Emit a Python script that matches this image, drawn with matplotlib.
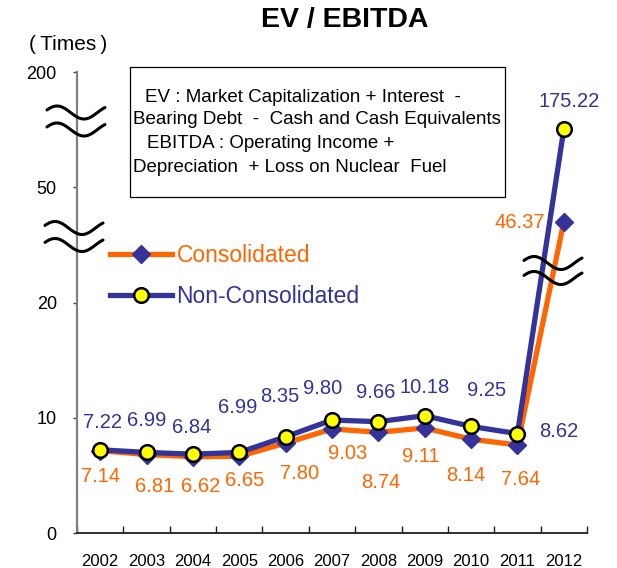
import numpy as np
import matplotlib
matplotlib.use('Agg')
import matplotlib.pyplot as plt
from matplotlib.lines import Line2D
from matplotlib.patches import Rectangle

# ---------------- data ----------------
years = ['2002', '2003', '2004', '2005', '2006', '2007', '2008', '2009', '2010', '2011', '2012']
consolidated = [7.14, 6.81, 6.62, 6.65, 7.80, 9.03, 8.74, 9.11, 8.14, 7.64, 46.37]
non_consolidated = [7.22, 6.99, 6.84, 6.99, 8.35, 9.80, 9.66, 10.18, 9.25, 8.62, 175.22]
y_ticks = [0, 10, 20, 50, 200]
y_tick_labels = ['0', '10', '20', '50', '200']
# broken-axis scale: value -> axis position (with compressed break zones)
scale_values = [0, 10, 20, 45, 50, 175, 200]
scale_positions = [0, 1, 2, 2.585, 3, 3.5, 4]

# label offsets (pixels) - styling only
nc_offsets = [(2, 27), (0, 32), (-1, 27), (-2, 45), (-6, 40), (-9, 32), (-3, 29),
              (0, 28), (15, 36), (41, 2), (5, 28)]
c_offsets = [(0, -26), (8, -32), (8, -30), (5, -24), (14, -30), (16, -25), (2, -50),
             (-4, -28), (-5, -36), (3, -35), (-44, -1)]

ORANGE = '#FF6600'
NAVY = '#333399'
YELLOW = '#FFFF00'

plt.rcParams['font.family'] = ['Liberation Sans', 'DejaVu Sans']

W, H = 617, 568
fig = plt.figure(figsize=(W / 100, H / 100), dpi=100)


def fx(px):
    return np.asarray(px) / W


def fy(py):
    return 1 - np.asarray(py) / H


ax = fig.add_axes([fx(77), fy(533), fx(587) - fx(77), fy(72) - fy(533)])


def fwd(v):
    return np.interp(v, scale_values, scale_positions)


def inv(p):
    return np.interp(p, scale_positions, scale_values)


ax.set_yscale('function', functions=(fwd, inv))
ax.set_ylim(0, 200)
x = np.arange(len(years))
ax.set_xlim(-0.5, len(years) - 0.5)

ax.plot(x, consolidated, color=ORANGE, lw=3.8, marker='D', ms=9, mfc=NAVY, mec=NAVY,
        zorder=3, label='Consolidated', clip_on=False)
ax.plot(x, non_consolidated, color=NAVY, lw=3.8, marker='o', ms=10.5, mfc=YELLOW,
        mec='black', mew=1.8, zorder=4, label='Non-Consolidated', clip_on=False)

for xi, v, (dx, dy) in zip(x, non_consolidated, nc_offsets):
    ax.annotate(f'{v:.2f}', (xi, v), xytext=(dx, dy), textcoords='offset pixels',
                ha='center', va='center', color=NAVY, fontsize=14.5, zorder=5)
for xi, v, (dx, dy) in zip(x, consolidated, c_offsets):
    ax.annotate(f'{v:.2f}', (xi, v), xytext=(dx, dy), textcoords='offset pixels',
                ha='center', va='center', color=ORANGE, fontsize=14.5, zorder=5)

# axes styling
for s in ('top', 'right'):
    ax.spines[s].set_visible(False)
ax.spines['left'].set_color('#808080')
ax.spines['left'].set_linewidth(1.6)
ax.spines['bottom'].set_color('#202020')
ax.spines['bottom'].set_linewidth(1.3)

ax.set_yticks(y_ticks)
ax.set_yticklabels(y_tick_labels)
ax.yaxis.set_minor_locator(matplotlib.ticker.NullLocator())
ax.tick_params(axis='y', direction='out', length=3, width=1, color='#404040',
               labelsize=13, pad=11.5)

ax.set_xticks(x)
ax.set_xticklabels(years)
ax.set_xticks(np.arange(-0.5, len(years)), minor=True)
ax.tick_params(axis='x', which='major', length=0, labelsize=12, pad=15)
ax.tick_params(axis='x', which='minor', direction='in', length=5, width=1, color='#202020')

leg = ax.legend(loc='center left', bbox_to_anchor=(fx(110), fy(276)),
                bbox_transform=fig.transFigure, frameon=False, fontsize=16.5,
                handlelength=2.7, handletextpad=0.2, labelspacing=0.75,
                borderpad=0, borderaxespad=0)
for t, c in zip(leg.get_texts(), [ORANGE, NAVY]):
    t.set_color(c)

# title and unit
fig.text(fx(345), fy(20), 'EV / EBITDA', ha='center', va='center', fontsize=20.5,
         weight='bold')
fig.text(fx(68), fy(44), '(\u2009Times\u2009)', ha='center', va='center', fontsize=15,
         family=['Liberation Sans', 'DejaVu Sans'])

# definition box
fig.add_artist(Rectangle((fx(130), fy(197)), fx(505) - fx(130), fy(67) - fy(197),
                         transform=fig.transFigure, fill=False, ec='black', lw=0.9))
box_lines = [(145, 97, 'EV : Market Capitalization + Interest  -'),
             (133, 120, 'Bearing Debt  -  Cash and Cash Equivalents'),
             (147, 144, 'EBITDA : Operating Income +'),
             (133, 167, 'Depreciation  + Loss on Nuclear  Fuel')]
for px, py, s in box_lines:
    fig.text(fx(px), fy(py), s, ha='left', va='center', fontsize=13.5)


# break symbols
def draw_break(cx, cy, gap, half_w=29, amp=6.5, period=54, crest=-19):
    xs = np.linspace(-half_w, half_w, 120)
    for off in (0, gap):
        ys = cy + off - amp * np.sin(2 * np.pi * (xs - (crest - period / 4)) / period)
        fig.add_artist(Line2D(fx(cx + xs), fy(ys), transform=fig.transFigure,
                              color='black', lw=2.2, solid_capstyle='round', zorder=10))


draw_break(76, 112.5, 17)
draw_break(74, 228, 17)
draw_break(553, 263, 15)

fig.savefig('out.png', dpi=100)
